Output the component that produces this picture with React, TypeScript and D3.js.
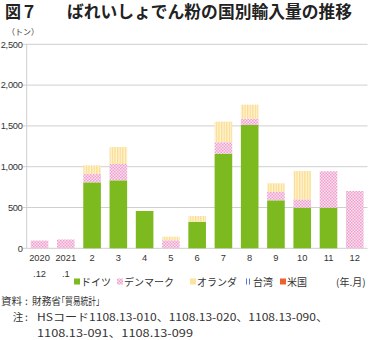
import React from "react";
import * as d3 from "d3";

const categories = ["2020\n.12", "2021\n.1", "2", "3", "4", "5", "6", "7", "8", "9", "10", "11", "12"];
const germany = [0, 0, 808, 833, 457, 0, 326, 1160, 1511, 588, 498, 498, 0];
const denmark = [95, 108, 102, 200, 0, 98, 0, 140, 77, 102, 102, 446, 702];
const netherlands = [0, 0, 107, 208, 0, 44, 70, 252, 172, 107, 347, 0, 0];
const taiwan = [0, 0, 0, 0, 0, 0, 0, 0, 0, 0, 0, 0, 0];
const usa = [0, 0, 0, 0, 0, 0, 0, 0, 0, 0, 0, 0, 0];
const seriesNames = ["ドイツ", "デンマーク", "オランダ", "台湾", "米国"];
const yTicks = [0, 500, 1000, 1500, 2000, 2500];

const W = 370;
const H = 340;
const JP = "'Noto Sans CJK JP', 'Noto Sans', sans-serif";
const NUM = "'Liberation Sans', Arial, sans-serif";
const palt = { fontFeatureSettings: '"palt"' } as React.CSSProperties;

export default function App() {
  const x = d3
    .scaleBand<string>()
    .domain(categories)
    .range([26.4, 367.9])
    .paddingInner(0.33)
    .paddingOuter(0.165);
  const y = d3.scaleLinear().domain([0, 2500]).range([248.3, 44.3]);

  const rows = categories.map((c, i) => ({
    cat: c,
    ドイツ: germany[i],
    デンマーク: denmark[i],
    オランダ: netherlands[i],
    台湾: taiwan[i],
    米国: usa[i],
  }));
  const stack = d3.stack<any>().keys(seriesNames)(rows);
  const fills: Record<string, string> = {
    ドイツ: "#7dba1f",
    デンマーク: "url(#pinkPat)",
    オランダ: "url(#yellowPat)",
    台湾: "url(#bluePat)",
    米国: "#f0602c",
  };
  const legendX = [74, 117, 190, 246, 280];
  const legendFill: Record<string, string> = {
    ドイツ: "#7dba1f",
    デンマーク: "url(#pinkPat)",
    オランダ: "#fbe3a0",
    台湾: "url(#bluePat)",
    米国: "#f0602c",
  };

  return (
    <svg width={W} height={H} style={{ position: "absolute", left: 0, top: 0, background: "#fff" }}>
      <defs>
        <pattern id="pinkPat" width="3" height="3" patternUnits="userSpaceOnUse">
          <rect width="3" height="3" fill="#fbe2f0" />
          <rect width="1.5" height="1.5" fill="#ee9fcc" />
          <rect x="1.5" y="1.5" width="1.5" height="1.5" fill="#ee9fcc" />
        </pattern>
        <pattern id="yellowPat" width="2.6" height="4" patternUnits="userSpaceOnUse">
          <rect width="2.6" height="4" fill="#fff4d6" />
          <rect width="1.3" height="4" fill="#f9dc90" />
        </pattern>
        <pattern id="bluePat" width="3" height="4" patternUnits="userSpaceOnUse">
          <rect width="3" height="4" fill="#ffffff" />
          <rect width="1" height="4" fill="#5a78cc" />
        </pattern>
      </defs>

      {/* title */}
      <text x={5} y={17.5} fontFamily={JP} fontWeight="bold" fontSize={16.5} fill="#222" textLength={32} lengthAdjust="spacingAndGlyphs">
        図７
      </text>
      <text x={67} y={17.5} fontFamily={JP} fontWeight="bold" fontSize={16.5} fill="#222" textLength={285} lengthAdjust="spacingAndGlyphs">
        ばれいしょでん粉の国別輸入量の推移
      </text>

      {/* unit */}
      <text x={7} y={35} fontFamily={JP} fontSize={8} fill="#333">
        （トン）
      </text>

      {/* grid */}
      {yTicks.map((t) => (
        <g key={t}>
          <line x1={23} x2={367.5} y1={y(t)} y2={y(t)} stroke="#cfcfcf" strokeWidth={1} />
          <text x={22.5} y={y(t) + 3.2} textAnchor="end" fontFamily={NUM} fontSize={9.3} letterSpacing={-0.3} fill="#333">
            {d3.format(",")(t)}
          </text>
        </g>
      ))}
      <line x1={26.7} x2={26.7} y1={y(2500)} y2={y(0)} stroke="#cfcfcf" strokeWidth={1} />

      {/* bars */}
      {stack.map((s) => (
        <g key={s.key} fill={fills[s.key]}>
          {s.map((d, i) =>
            d[1] - d[0] > 0 ? (
              <rect
                key={i}
                x={x(categories[i])}
                width={x.bandwidth()}
                y={y(d[1])}
                height={y(d[0]) - y(d[1])}
              />
            ) : null
          )}
        </g>
      ))}

      {/* x labels */}
      {categories.map((c) => {
        const parts = c.split("\n");
        const cx = (x(c) as number) + x.bandwidth() / 2;
        return (
          <text key={c} x={cx} textAnchor="middle" fontFamily={NUM} fontSize={9.3} fill="#333">
            <tspan x={cx} y={261}>{parts[0]}</tspan>
            {parts[1] ? <tspan x={cx} y={276.5}>{parts[1]}</tspan> : null}
          </text>
        );
      })}

      {/* legend */}
      {seriesNames.map((n, i) => (
        <g key={n}>
          <rect x={legendX[i]} y={278.5} width={6} height={6} fill={legendFill[n]} />
          <text x={legendX[i] + 7} y={285.5} fontFamily={JP} fontSize={10} fill="#333">
            {n}
          </text>
        </g>
      ))}
      <text x={336} y={285.5} fontFamily={JP} fontSize={10} fill="#333">
        (年.月)
      </text>

      {/* notes */}
      <text x={1} y={305} fontFamily={JP} fontSize={10.5} fill="#333" textLength={21} lengthAdjust="spacingAndGlyphs">
        資料
      </text>
      <text x={26.5} y={305} fontFamily={JP} fontSize={10.5} fill="#333" textAnchor="middle" style={palt}>
        :
      </text>
      <text x={32} y={305} fontFamily={JP} fontSize={10.5} fill="#333" textLength={29} lengthAdjust="spacingAndGlyphs">
        財務省
      </text>
      <text x={61} y={305} fontFamily={JP} fontSize={10.5} fill="#333" style={palt} textLength={39} lengthAdjust="spacingAndGlyphs">
        「貿易統計」
      </text>
      <text x={12.7} y={321} fontFamily={JP} fontSize={10.5} fill="#333">
        注
      </text>
      <text x={26.5} y={321} fontFamily={JP} fontSize={10.5} fill="#333" textAnchor="middle" style={palt}>
        :
      </text>
      <text x={37} y={321} fontFamily={JP} fontSize={10.5} fill="#333" textLength={291} lengthAdjust="spacingAndGlyphs">
        HSコード1108.13-010、1108.13-020、1108.13-090、
      </text>
      <text x={37} y={337} fontFamily={JP} fontSize={10.5} fill="#333" textLength={156} lengthAdjust="spacingAndGlyphs">
        1108.13-091、1108.13-099
      </text>
    </svg>
  );
}
